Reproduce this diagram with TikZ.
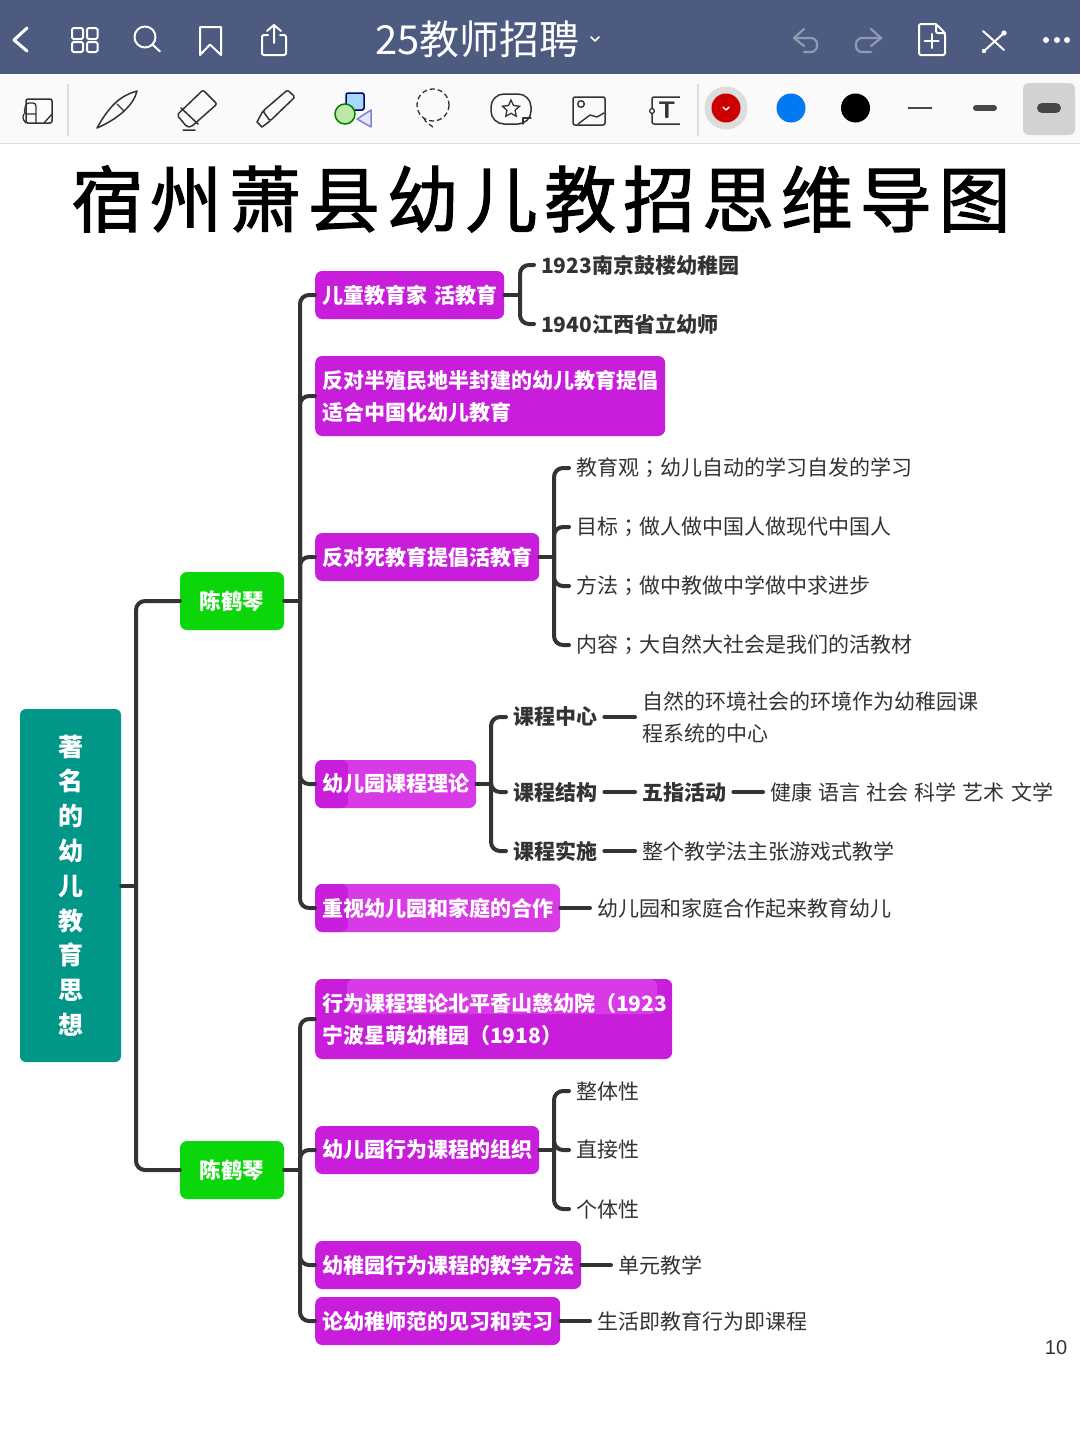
\documentclass[tikz,border=0pt]{standalone}
\usepackage{fontspec}
\setmainfont{Noto Sans CJK SC}
\newfontfamily\latinpage{Liberation Sans}
\newfontfamily\titlefont[FakeBold=1.6,LetterSpace=9.5]{Noto Sans CJK SC}
\newfontfamily\tcpunct{Noto Sans CJK TC}
\newcommand{\wsemi}{{\tcpunct ^^^^ff1b}}
\newcommand{\wopen}{^^^^ff08}
\newcommand{\wclose}{^^^^ff09}
\usetikzlibrary{shapes.geometric}
\definecolor{barblue}{HTML}{4D5B80}
\definecolor{toolbg}{HTML}{FAFAFA}
\definecolor{rulegrey}{HTML}{DDDDDD}
\definecolor{inkdark}{HTML}{333333}
\definecolor{teal1}{HTML}{009688}
\definecolor{green1}{HTML}{0AD60A}
\definecolor{purp}{HTML}{C81EDC}
\definecolor{purplight}{HTML}{D83AE6}
\definecolor{fadeicon}{HTML}{8F9BB3}
\tikzset{
  x=1pt,y=-1pt,
  conn/.style={draw=inkdark,line width=4pt,line cap=round},
  elbow/.style={conn,rounded corners=9pt},
  rootbox/.style={fill=teal1,rounded corners=6pt,text=white,minimum width=101pt,minimum height=353pt,inner sep=0pt,align=center,font=\fontsize{25}{34.8}\selectfont\bfseries},
  greenbox/.style={fill=green1,rounded corners=7pt,text=white,minimum width=104pt,minimum height=58pt,inner sep=0pt,font=\fontsize{21.5}{30}\selectfont\bfseries},
  pbox/.style={fill=purp,rounded corners=7pt,text=white,anchor=west,inner xsep=7pt,inner ysep=0pt,minimum height=48pt,align=left,font=\fontsize{21}{32}\selectfont\bfseries,text width=#1},
  darkleft/.style={fill=purplight,path picture={\fill[purp] (path picture bounding box.north west) rectangle ([xshift=33pt]path picture bounding box.south west);}},
  topband/.style={path picture={\fill[purplight] ([xshift=32pt]path picture bounding box.north west) rectangle ([xshift=-15pt,yshift=-35pt]path picture bounding box.north east);}},
  leaf/.style={anchor=west,inner xsep=7pt,inner ysep=0pt,text=inkdark,align=left,font=\fontsize{21}{32}\selectfont},
  leafb/.style={leaf,font=\fontsize{21}{32}\selectfont\bfseries},
  ticon/.style={draw=white,line width=2pt,line join=round,line cap=round},
  gicon/.style={draw=inkdark,line width=1.5pt,line join=round,line cap=round},
  fadeic/.style={draw=fadeicon,line width=2.2pt,line join=round,line cap=round},
}
\begin{document}
\begin{tikzpicture}
\useasboundingbox (0,0) rectangle (1080,1440);
\fill[white] (0,0) rectangle (1080,1440);
% top bars
\fill[barblue] (0,0) rectangle (1080,74);
\fill[toolbg] (0,75) rectangle (1080,143);
\draw[rulegrey,line width=1.5pt] (0,143.5) -- (1080,143.5);
\node[text=white,font=\fontsize{40}{44}\selectfont,inner sep=0pt,anchor=west] (doc) at (375,39) {25教师招聘};
\draw[ticon,line width=1.5pt] (591,37) -- (595,41) -- (599,37);
% top bar icons
\draw[ticon,line width=3pt] (27,28) -- (14,40) -- (27,51);
\draw[ticon,rounded corners=1.5pt] (72,28) rectangle (83,39) (87,28) rectangle (97.5,39) (72,42) rectangle (83,52) (87,42) rectangle (97.5,52);
\draw[ticon] (145,37) circle (10.5) (153,45) -- (160,51.5);
\draw[ticon] (200,27) -- (221,27) -- (221,55) -- (210,44.5) -- (200,55) -- cycle;
\draw[ticon,rounded corners=2pt] (268,35) -- (262,35) -- (262,55) -- (286,55) -- (286,35) -- (280,35);
\draw[ticon] (274,43) -- (274,25) (267,31) -- (274,25) -- (281,31);
\draw[fadeic] (804,29) -- (794,38) -- (804,46);
\draw[fadeic,rounded corners=6pt] (794,38) -- (817,38) -- (817,52) -- (804,52);
\draw[fadeic] (871,29) -- (881,38) -- (871,46);
\draw[fadeic,rounded corners=6pt] (881,38) -- (856,38) -- (856,52) -- (871,52);
\draw[ticon,rounded corners=2pt] (936,24) -- (919,24) -- (919,55) -- (945,55) -- (945,33) -- (936,24) -- (936,33) -- (945,33);
\draw[ticon] (931.5,34) -- (931.5,48) (924.5,41) -- (938.5,41);
\draw[ticon] (983,31) -- (1004,50) (1004,33) -- (984,51);
\fill[white] (1004,33) circle (2.6) (984,51) circle (2.2);
\fill[white] (1046,40) circle (3) (1057,40) circle (3) (1067,40) circle (3);
% toolbar
\draw[rulegrey,line width=1.2pt] (68,84) -- (68,136);
\draw[rulegrey,line width=1.2pt] (698,84) -- (698,136);
\fill[rulegrey!90!black!5!white] (38,99) rectangle (52,123);
\draw[gicon,rounded corners=2pt] (26,99) rectangle (52,123);
\draw[gicon,line width=1.3pt,rounded corners=3pt] (36,123) -- (36,103) -- (26,103) -- (24,114) -- (36,114) (24,114) -- (22,118) -- (26,123) (44,123) -- (52,114);
\draw[gicon] (97,128) .. controls (110,105) and (120,96) .. (137,91) .. controls (134,104) and (120,118) .. (97,128) -- cycle;
\draw[gicon,line width=1.3pt] (117,104) -- (124,111);
\draw[gicon,rounded corners=2pt] (203,90) -- (217,104) -- (191,127) -- (187,127) -- (177,115) -- cycle;
\draw[gicon] (181,108) -- (198,124) (183,130) -- (195,130);
\draw[gicon,rounded corners=1.5pt] (287.5,90) -- (295,97) -- (270,121) -- (263,111) -- cycle;
\draw[gicon] (263,111) -- (257,122) -- (262,127) -- (270,121);
\draw[draw=blue!45!black,fill=blue!45!cyan!35!white,line width=1.5pt,rounded corners=2pt] (346,93) rectangle (364,110);
\draw[draw=green!50!black,fill=green!50!olive!35!white,line width=1.5pt] (345,114) circle (10);
\draw[draw=blue!40!gray!70,fill=blue!10!white,line width=1.5pt,line join=round] (371,110) -- (371,127) -- (357,119) -- cycle;
\draw[gicon,line width=1.3pt,dash pattern=on 5pt off 3pt,line cap=butt] (433,105) circle (16);
\draw[gicon,line width=1.3pt,dash pattern=on 5pt off 3pt,line cap=butt] (424,118) .. controls (425,123) and (430,124) .. (434,128);
\draw[gicon,rounded corners=13pt] (491,94) rectangle (531,124);
\node[star,star points=5,star point ratio=2.1,draw=inkdark,line width=1.3pt,minimum size=18pt,inner sep=0pt] (starmark) at (511,109) {};
\draw[gicon,line width=1.3pt] (523,124) -- (523,118) -- (531,118);
\draw[gicon,rounded corners=2pt] (573,97) rectangle (605,125);
\draw[gicon,line width=1.4pt] (581,104) circle (3.3);
\draw[gicon,line width=1.4pt] (578,124) -- (590,115) -- (597,117) -- (604,113);
\draw[gicon,rounded corners=2pt] (683,97) -- (652,97) -- (652,124) -- (683,124);
\node[text=inkdark,font=\fontsize{24}{26}\selectfont\bfseries\sffamily,inner sep=0pt] (tbox) at (667,110) {T};
\draw[gicon,line width=1.3pt,fill=toolbg] (652,111) circle (2.4);
\fill[toolbg] (680,92) rectangle (692,130);
\fill[rulegrey] (726,108) circle (21.5);
\fill[red!80!black] (726,108) circle (14.5);
\draw[ticon,line width=1.4pt] (723,107) -- (726,110) -- (729,107);
\fill[blue!50!cyan!95!black] (791,108) circle (14.5);
\fill[black] (855.5,108) circle (14.5);
\draw[draw=inkdark!90,line width=2.5pt] (908,108) -- (932,108);
\draw[draw=inkdark!90,line width=6pt,line cap=round] (976,108) -- (994,108);
\fill[rulegrey!95!black,rounded corners=6pt] (1023,83) rectangle (1075,135);
\draw[draw=inkdark!90,line width=10pt,line cap=round] (1042,108) -- (1056,108);
% title
\node[text=black,inner sep=0pt,font=\fontsize{72}{80}\titlefont] (title) at (541,199) {宿州萧县幼儿教招思维导图};
% main nodes
\node[rootbox] (root) at (70.5,885.5) {著\\名\\的\\幼\\儿\\教\\育\\思\\想};
\node[greenbox] (g1) at (232,601) {陈鹤琴};
\node[greenbox] (g2) at (232,1170) {陈鹤琴};
\coordinate (j0) at (136,885.5);
\coordinate (j1) at (300,601);
\coordinate (j2) at (300,1170);
% upper branch
\node[pbox=175pt] (a1) at (315,295) {儿童教育家 活教育};
\node[pbox=336pt,minimum height=80pt] (a2) at (315,396) {反对半殖民地半封建的幼儿教育提倡\\适合中国化幼儿教育};
\node[pbox=210pt] (a3) at (315,557) {反对死教育提倡活教育};
\node[pbox=147pt,darkleft] (a4) at (315,784) {幼儿园课程理论};
\node[pbox=231pt,darkleft] (a5) at (315,908) {重视幼儿园和家庭的合作};
\node[leafb] (a11) at (534,265) {1923南京鼓楼幼稚园};
\node[leafb] (a12) at (534,324) {1940江西省立幼师};
\node[leaf] (a31) at (569,468) {教育观\wsemi 幼儿自动的学习自发的学习};
\node[leaf] (a32) at (569,527) {目标\wsemi 做人做中国人做现代中国人};
\node[leaf] (a33) at (569,586) {方法\wsemi 做中教做中学做中求进步};
\node[leaf] (a34) at (569,645) {内容\wsemi 大自然大社会是我们的活教材};
\node[leafb] (a41) at (506,717) {课程中心};
\node[leafb] (a42) at (506,792) {课程结构};
\node[leafb] (a43) at (506,851) {课程实施};
\node[leaf] (a411) at (635,717) {自然的环境社会的环境作为幼稚园课\\程系统的中心};
\node[leafb] (a421) at (635,792) {五指活动};
\node[leaf] (a422) at (763,792) {\spaceskip=6.2pt 健康 语言 社会 科学 艺术 文学};
\node[leaf] (a431) at (635,851) {整个教学法主张游戏式教学};
\node[leaf] (a51) at (590,908) {幼儿园和家庭合作起来教育幼儿};
% lower branch
\node[pbox=343pt,minimum height=80pt,topband] (b1) at (315,1019) {行为课程理论北平香山慈幼院\wopen 1923\\宁波星萌幼稚园\wopen 1918\wclose};
\node[pbox=210pt] (b2) at (315,1150) {幼儿园行为课程的组织};
\node[pbox=252pt] (b3) at (315,1265) {幼稚园行为课程的教学方法};
\node[pbox=231pt] (b4) at (315,1321) {论幼稚师范的见习和实习};
\node[leaf] (b21) at (569,1091) {整体性};
\node[leaf] (b22) at (569,1150) {直接性};
\node[leaf] (b23) at (569,1209) {个体性};
\node[leaf] (b31) at (611,1265) {单元教学};
\node[leaf] (b41) at (590,1321) {生活即教育行为即课程};
\node[anchor=center,inner sep=0pt,text=inkdark,font=\fontsize{20}{22}\selectfont\latinpage] (pageno) at (1056,1348) {10};
% connectors: root
\draw[conn] (root.east) -- (j0);
\draw[elbow] (j0) |- (g1.west);
\draw[elbow] (j0) |- (g2.west);
% connectors: green to purple
\draw[conn] (g1.east) -- (j1);
\draw[conn] (g2.east) -- (j2);
\foreach \t in {a1,a2,a3,a4,a5} \draw[elbow] (j1) |- (\t.west);
\foreach \t in {b1,b2,b3,b4} \draw[elbow] (j2) |- (\t.west);
% brackets
\coordinate (c1) at (520,295);
\coordinate (c3) at (554,557);
\coordinate (c4) at (491,784);
\coordinate (c6) at (554,1150);
\draw[conn] (a1.east) -- (c1);
\foreach \t in {a11,a12} \draw[elbow] (c1) |- (\t.west);
\draw[conn] (a3.east) -- (c3);
\foreach \t in {a31,a32,a33,a34} \draw[elbow] (c3) |- (\t.west);
\draw[conn] (a4.east) -- (c4);
\foreach \t in {a41,a42,a43} \draw[elbow] (c4) |- (\t.west);
\draw[conn] (b2.east) -- (c6);
\foreach \t in {b21,b22,b23} \draw[elbow] (c6) |- (\t.west);
% straight links
\draw[conn] (a41.east) -- (a411.west);
\draw[conn] (a42.east) -- (a421.west);
\draw[conn] (a421.east) -- (a422.west);
\draw[conn] (a43.east) -- (a431.west);
\draw[conn] (a5.east) -- (a51.west);
\draw[conn] (b3.east) -- (b31.west);
\draw[conn] (b4.east) -- (b41.west);
\end{tikzpicture}
\end{document}
